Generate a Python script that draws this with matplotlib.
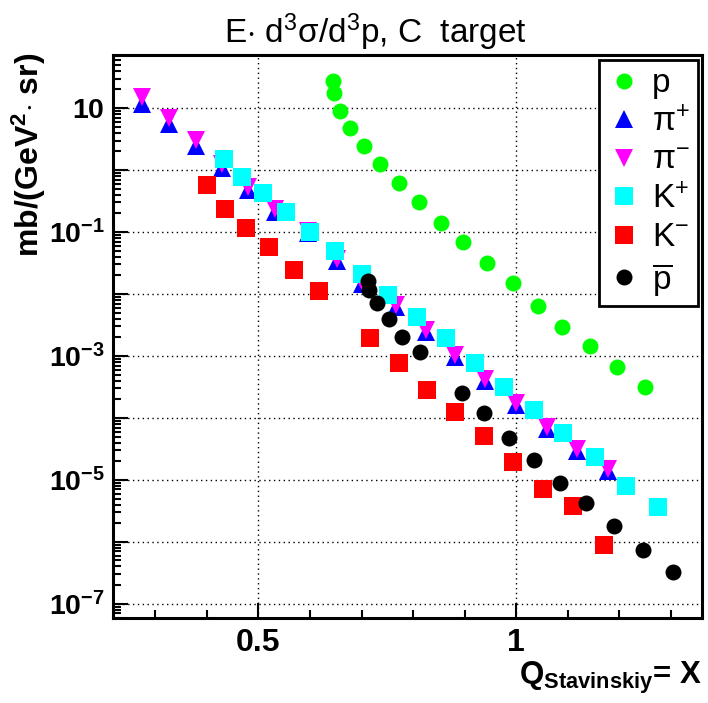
import matplotlib
matplotlib.use("Agg")
import matplotlib.pyplot as plt
from matplotlib.ticker import FixedLocator, FixedFormatter, LogLocator, NullFormatter, MultipleLocator

plt.rcParams['font.family'] = ['Liberation Sans', 'DejaVu Sans']
plt.rcParams['mathtext.fontset'] = 'custom'
plt.rcParams['mathtext.rm'] = 'Liberation Sans'
plt.rcParams['mathtext.bf'] = 'Liberation Sans:bold'
plt.rcParams['mathtext.it'] = 'Liberation Sans:italic'

# ---------------- data ----------------
p_x = [0.644, 0.647, 0.659, 0.678, 0.704, 0.736, 0.773, 0.811, 0.854, 0.897,
       0.943, 0.993, 1.042, 1.089, 1.142, 1.196, 1.249]
p_y = [27.6, 17.3, 9.0, 4.8, 2.44, 1.25, 0.61, 0.30, 0.141, 0.069,
       0.0316, 0.0150, 0.0064, 0.00297, 0.00145, 0.00067, 0.00031]

pip_x = [0.275, 0.327, 0.379, 0.430, 0.480, 0.532, 0.597, 0.652, 0.701, 0.766,
         0.824, 0.882, 0.940, 1.000, 1.059, 1.117, 1.178]
pip_y = [11.6, 5.5, 2.44, 1.08, 0.475, 0.21, 0.096, 0.034, 0.0145, 0.0062,
         0.00244, 0.00096, 0.000395, 0.000162, 6.65e-5, 2.94e-5, 1.40e-5]

pim_x = pip_x
pim_y = [15.0, 6.9, 3.05, 1.25, 0.53, 0.235, 0.104, 0.0367, 0.0156, 0.00665,
         0.00263, 0.00104, 0.000426, 0.000175, 7.2e-5, 3.16e-5, 1.5e-5]

kp_x = [0.433, 0.468, 0.508, 0.553, 0.600, 0.649, 0.701, 0.752, 0.808, 0.863,
        0.919, 0.976, 1.034, 1.091, 1.152, 1.212, 1.274]
kp_y = [1.50, 0.78, 0.43, 0.21, 0.101, 0.0494, 0.021, 0.00964, 0.0042, 0.00193,
        0.00076, 0.00032, 0.000133, 5.66e-5, 2.38e-5, 8.0e-6, 3.7e-6]

km_x = [0.401, 0.435, 0.476, 0.521, 0.568, 0.617, 0.717, 0.772, 0.827, 0.882,
        0.937, 0.994, 1.052, 1.109, 1.170]
km_y = [0.566, 0.232, 0.115, 0.0566, 0.0244, 0.0113, 0.00193, 0.00076, 0.000283, 0.000125,
        5.19e-5, 1.95e-5, 7.2e-6, 3.85e-6, 8.95e-7]

pbar_x = [0.713, 0.714, 0.730, 0.754, 0.779, 0.814, 0.895, 0.937, 0.986, 1.034,
          1.084, 1.136, 1.189, 1.246, 1.303]
pbar_y = [0.0162, 0.0116, 0.00724, 0.0039, 0.0020, 0.00117, 0.00025, 0.000119, 4.8e-5, 2.1e-5,
          8.85e-6, 4.3e-6, 1.81e-6, 7.43e-7, 3.32e-7]

x_ticklabels = ["0.5", "1"]
y_decades = [-7, -6, -5, -4, -3, -2, -1, 0, 1]
y_ticklabels = [r"$\mathbf{10^{-7}}$", "", r"$\mathbf{10^{-5}}$", "", r"$\mathbf{10^{-3}}$", "",
                r"$\mathbf{10^{-1}}$", "", r"$\mathbf{10}$"]

# ---------------- figure ----------------
fig = plt.figure(figsize=(7.08, 7.03), dpi=100)
ax = fig.add_axes([113/708, 1-618/703, (702-113)/708, (618-55)/703])
ax.set_yscale('log')
ax.set_xlim(0.218, 1.36)
ax.set_ylim(5.9e-8, 72)

ax.plot(p_x, p_y, 'o', color='#00ff00', ms=11.5, mew=0, label='p', zorder=3)
ax.plot(pip_x, pip_y, '^', color='#0000ff', ms=12.5, mew=0, label=r'π$^{+}$', zorder=3)
ax.plot(pim_x, pim_y, 'v', color='#ff00ff', ms=12.5, mew=0, label=r'π$^{-}$', zorder=3)
ax.plot(kp_x, kp_y, 's', color='#00ffff', ms=13, mew=0, label=r'K$^{+}$', zorder=3)
ax.plot(km_x, km_y, 's', color='#ff0000', ms=13, mew=0, label=r'K$^{-}$', zorder=3)
ax.plot(pbar_x, pbar_y, 'o', color='black', ms=11.5, mew=0, label=r'$\overline{\mathrm{p}}$', zorder=3)

# ticks
ax.xaxis.set_major_locator(FixedLocator([0.5, 1.0]))
ax.xaxis.set_major_formatter(FixedFormatter(x_ticklabels))
ax.xaxis.set_minor_locator(MultipleLocator(0.1))
ax.yaxis.set_major_locator(FixedLocator([10.0**e for e in y_decades]))
ax.yaxis.set_major_formatter(FixedFormatter(y_ticklabels))
ax.yaxis.set_minor_locator(LogLocator(base=10, subs=range(2, 10), numticks=50))
ax.yaxis.set_minor_formatter(NullFormatter())
ax.tick_params(axis='both', which='both', direction='in', top=False, right=False, width=1.5)
ax.tick_params(axis='x', which='major', length=11, pad=7, labelsize=23)
ax.tick_params(axis='x', which='minor', length=6)
ax.tick_params(axis='y', which='major', length=11, pad=6, labelsize=20.5)
ax.tick_params(axis='y', which='minor', length=6)
for lab in ax.get_xticklabels():
    lab.set_fontweight('bold')

ax.grid(True, which='major', linestyle=(0, (1, 2.5)), color='black', linewidth=1.0)
for s in ax.spines.values():
    s.set_linewidth(2.2)

# legend
leg = ax.legend(loc='upper right', bbox_to_anchor=(0.9935, 0.991), fontsize=24,
                frameon=True, fancybox=False, edgecolor='black', framealpha=1,
                handlelength=1.0, handletextpad=0.35, labelspacing=0.22, borderpad=0.25,
                borderaxespad=0)
leg.get_frame().set_linewidth(2.0)
leg.set_zorder(5)

# texts
fig.text(375/708, 1-32/703, r"E$\cdot$ d$^{3}$σ/d$^{3}$p, C  target", ha='center', va='center', fontsize=24)
fig.text(29/708, 1-155/703, r"mb/(GeV$^{\mathbf{2}}$$\cdot$ sr)", rotation=90, ha='center', va='center',
         fontsize=23, fontweight='bold')
fig.text(702/708, 1-678/703, r"Q$_{\mathbf{Stavinskiy}}$= X", ha='right', va='center', fontsize=22.5,
         fontweight='bold')

fig.savefig('out.png', dpi=100)
